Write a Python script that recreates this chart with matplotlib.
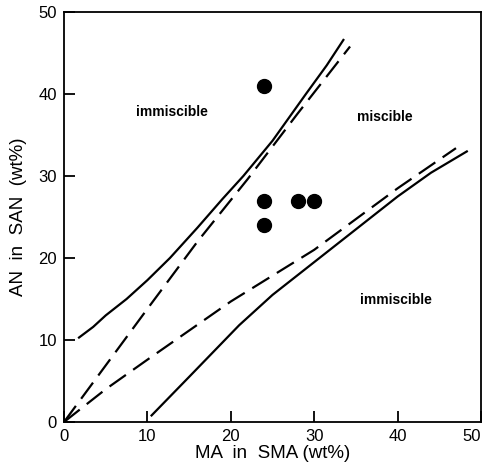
import numpy as np
import matplotlib.pyplot as plt

plt.rcParams['font.family'] = ['Liberation Sans', 'DejaVu Sans']

# boundary curves (MA wt%, AN wt%)
upper_solid_x = [1.8, 3.5, 5, 7.5, 10, 12.7, 16, 19, 21.5, 25, 29, 31.5, 33.5]
upper_solid_y = [10.3, 11.6, 13.0, 15.0, 17.3, 20, 23.7, 27.2, 30, 34.3, 40, 43.5, 46.6]
upper_dash_x = [0, 10, 16, 22, 28, 34.3]
upper_dash_y = [0, 13.8, 22, 29.6, 37.6, 45.8]
lower_dash_x = [0, 5, 10, 20, 30, 40, 47]
lower_dash_y = [0, 4, 7.6, 14.7, 21, 28.5, 33.4]
lower_solid_x = [10.5, 15, 21, 25, 30, 35, 40, 44, 48.3]
lower_solid_y = [0.8, 5.5, 11.8, 15.5, 19.5, 23.5, 27.5, 30.4, 33]

# measured blends
ma = [24, 24, 24, 28, 30]
an = [41, 27, 24, 27, 27]

fig = plt.figure(figsize=(4.86, 4.75), dpi=100)
ax = fig.add_axes([0.1317, 0.1116, 0.858, 0.863])

ax.plot(upper_solid_x, upper_solid_y, color='black', lw=1.6)
ax.plot(lower_solid_x, lower_solid_y, color='black', lw=1.6)
ax.plot(upper_dash_x, upper_dash_y, color='black', lw=1.6, dashes=(9, 4))
ax.plot(lower_dash_x, lower_dash_y, color='black', lw=1.6, dashes=(9, 4))
ax.plot(ma, an, 'o', color='black', ms=10)

ax.text(13, 37.8, 'immiscible', fontsize=10, fontweight='bold', ha='center', va='center')
ax.text(38.5, 37.2, 'miscible', fontsize=10, fontweight='bold', ha='center', va='center')
ax.text(39.8, 14.9, 'immiscible', fontsize=10, fontweight='bold', ha='center', va='center')

ax.set_xlim(0, 50)
ax.set_ylim(0, 50)
ax.set_xticks(np.arange(0, 51, 10))
ax.set_yticks(np.arange(0, 51, 10))
ax.tick_params(direction='in', length=8, width=1.3, labelsize=12, pad=5)
ax.get_xticklabels()[-1].set_horizontalalignment('right')
for s in ax.spines.values():
    s.set_linewidth(1.3)
ax.set_xlabel('MA  in  SMA (wt%)', fontsize=13.5, labelpad=1)
ax.set_ylabel('AN  in  SAN  (wt%)', fontsize=13.5, labelpad=8)

fig.savefig('out.png', dpi=100)
